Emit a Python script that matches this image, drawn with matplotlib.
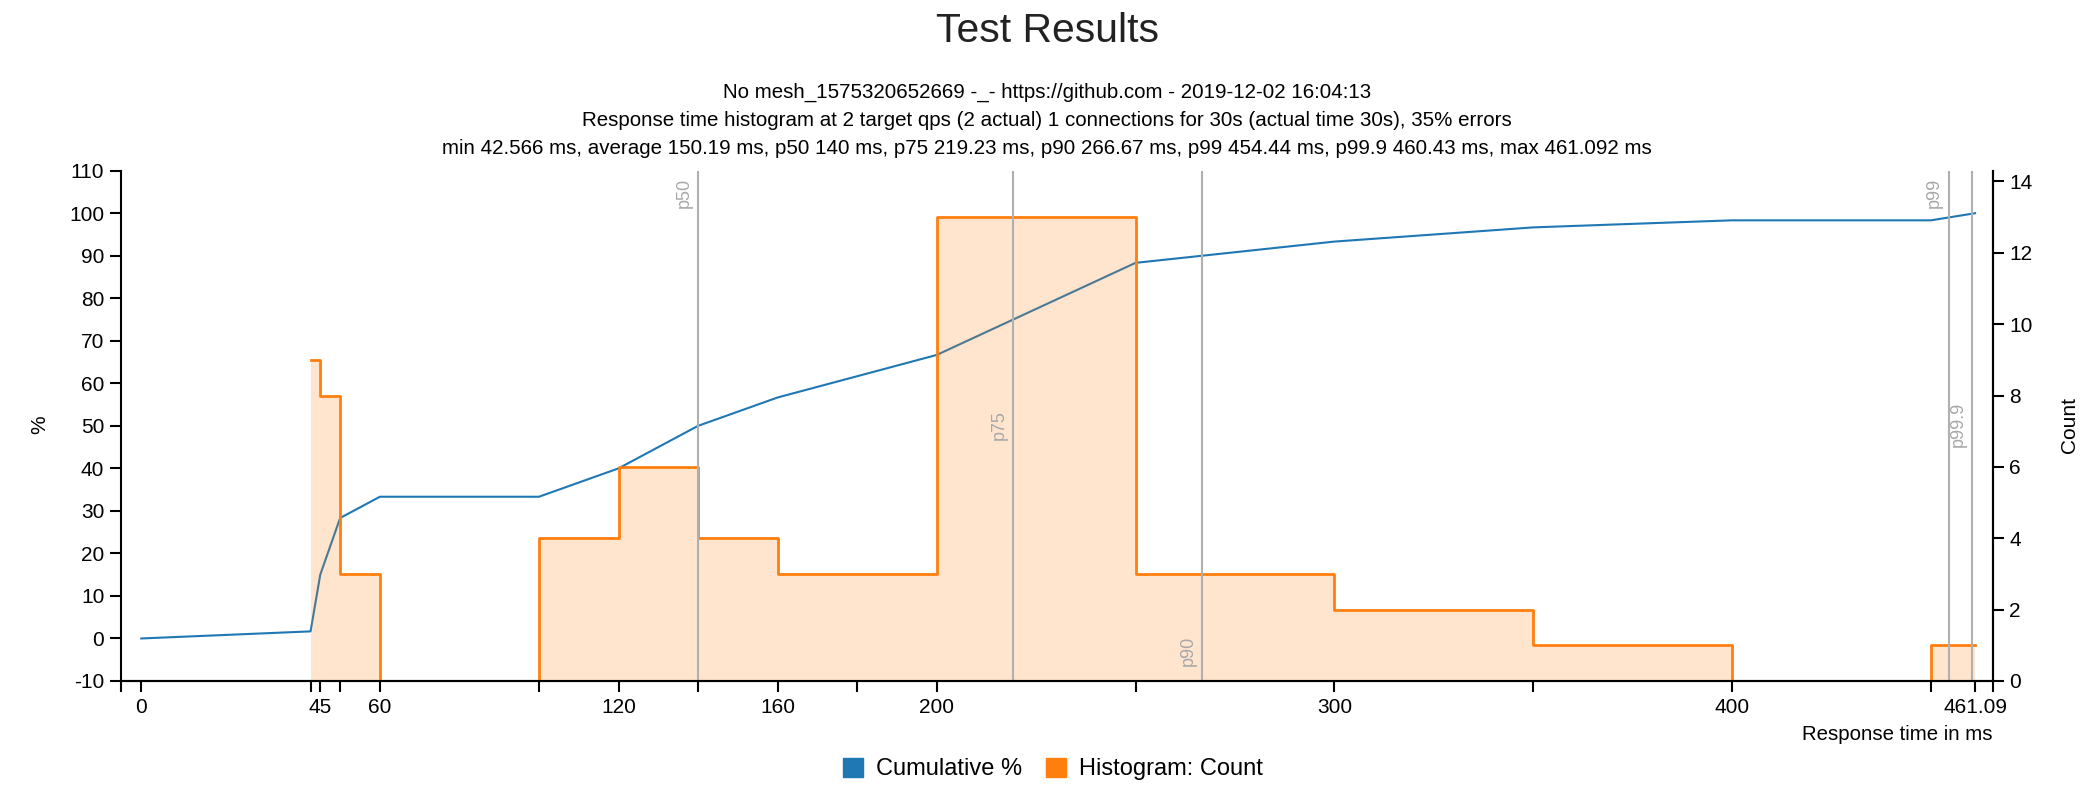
import matplotlib.pyplot as plt
from matplotlib.patches import Patch

plt.rcParams['font.family'] = ['Liberation Sans', 'DejaVu Sans']
plt.rcParams['axes.unicode_minus'] = False

# histogram buckets (ms) and counts
bin_start = [42.566, 45, 50, 60, 100, 120, 140, 160, 180, 200, 250, 300, 350, 400, 450]
bin_end = [45, 50, 60, 100, 120, 140, 160, 180, 200, 250, 300, 350, 400, 450, 461.092]
counts = [9, 8, 3, 0, 4, 6, 4, 3, 3, 13, 3, 2, 1, 0, 1]

# cumulative percent
cum_x = [0, 42.566, 45, 50, 60, 100, 120, 140, 160, 180, 200, 250, 300, 350, 400, 450, 461.092]
cum_pct = [0, 1.67, 15, 28.33, 33.33, 33.33, 40, 50, 56.67, 61.67, 66.67, 88.33, 93.33, 96.67, 98.33, 98.33, 100]

# percentiles
pct_names = ['p50', 'p75', 'p90', 'p99', 'p99.9']
pct_values = [140, 219.23, 266.67, 454.44, 460.43]
pct_label_pos = [0.956, 0.502, 0.059, 0.956, 0.502]

x_ticks = [0, 42.566, 45, 50, 60, 100, 120, 140, 160, 180, 200, 250, 300, 350, 400, 450, 461.09]
x_labels = ['0', '', '45', '', '60', '', '120', '', '160', '', '200', '', '300', '', '400', '', '461.09']

title = 'Test Results'
subtitle = ['No mesh_1575320652669 -_- https://github.com - 2019-12-02 16:04:13',
            'Response time histogram at 2 target qps (2 actual) 1 connections for 30s (actual time 30s), 35% errors',
            'min 42.566 ms, average 150.19 ms, p50 140 ms, p75 219.23 ms, p90 266.67 ms, p99 454.44 ms, p99.9 460.43 ms, max 461.092 ms']

blue = '#1f77b4'
orange = '#ff7f0e'
grey = '#b0b0b0'

fig = plt.figure(figsize=(20.94, 7.88), dpi=100)
ax = fig.add_axes([121 / 2094, 1 - 681 / 788, (1992.6 - 121) / 2094, (681 - 170.7) / 788])
ax2 = ax.twinx()

ax.plot(cum_x, cum_pct, color=blue, linewidth=1.5, zorder=2)
ax.set_xlim(-5.1, 465.5)
ax.set_ylim(-10, 110)
ax.set_yticks(range(-10, 111, 10))

# step outline of the histogram
hx = []
hy = []
for s, e, c in zip(bin_start, bin_end, counts):
    hx += [s, e]
    hy += [c, c]
ax2.fill_between(hx, hy, 0, color=orange, alpha=0.2, linewidth=0, zorder=1)
ax2.plot(hx, hy, color=orange, linewidth=2, zorder=3)
ax2.set_ylim(0, 14.3)
ax2.set_yticks(range(0, 15, 2))

for name, v, pos in zip(pct_names, pct_values, pct_label_pos):
    ax2.axvline(v, color=grey, linewidth=1.5, zorder=4)
    ax2.annotate(name, xy=(v, pos), xycoords=('data', 'axes fraction'), xytext=(-10, 0),
                 textcoords='offset points', rotation=90, ha='center', va='center',
                 color='#a8a8a8', fontsize=13)

ax.set_xticks(x_ticks + [-5.1, 465.5])
ax.set_xticklabels(x_labels + ['', ''])

for a in (ax, ax2):
    a.spines['top'].set_visible(False)
    for sp in a.spines.values():
        sp.set_linewidth(1.5)
    a.tick_params(length=8, width=1.5, labelsize=15, pad=4)
ax2.spines['left'].set_visible(False)
# keep the x axis line above the zero parts of the histogram
ax2.spines['bottom'].set_zorder(10)

fig.text(40 / 2094, 1 - 425 / 788, '%', rotation=90, ha='center', va='center', fontsize=15)
fig.text(2070 / 2094, 1 - 425 / 788, 'Count', rotation=90, ha='center', va='center', fontsize=15)
fig.text(1992 / 2094, 1 - 735 / 788, 'Response time in ms', ha='right', va='center', fontsize=14.7)

fig.text(0.5, 1 - 31 / 788, title, ha='center', va='center', fontsize=29.4, color='#222222')
for line, y in zip(subtitle, [92.5, 120, 149]):
    fig.text(0.5, 1 - y / 788, line, ha='center', va='center', fontsize=14.8)

handles = [Patch(color=blue), Patch(color=orange)]
fig.legend(handles, ['Cumulative %', 'Histogram: Count'], loc='center',
           bbox_to_anchor=(1053 / 2094, 1 - 769 / 788), ncol=2, frameon=False,
           fontsize=17, handlelength=0.85, handleheight=0.85, handletextpad=0.55,
           columnspacing=1.0)

plt.savefig('out.png')
